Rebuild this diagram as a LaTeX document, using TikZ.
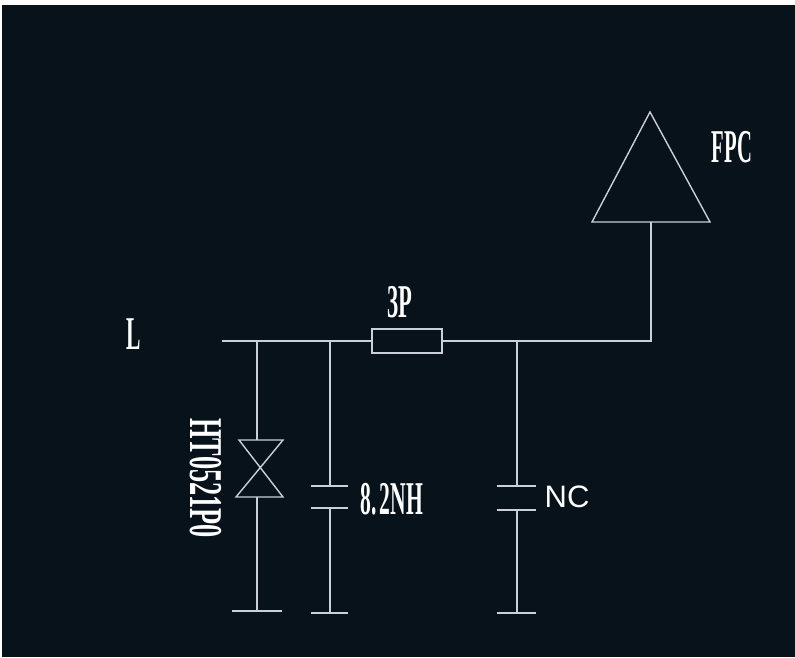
\documentclass[tikz,border=0pt]{standalone}
\usepackage{graphicx}
\usepackage{fontspec}
\setmainfont{Liberation Serif}
\newfontfamily\ncfont{Liberation Sans}
\definecolor{panel}{HTML}{07121A}
\definecolor{wirec}{HTML}{C9D0D6}
\newcommand{\cadtext}[2]{\scalebox{#1}[1]{\bfseries #2}}
\tikzset{
  wire/.style={draw=wirec,line width=1.4pt},
  cadlabel/.style={text=white,font=\fontsize{47}{47}\selectfont},
  reslabel/.style={wire,fill=panel,minimum width=70pt,minimum height=24pt}
}
\begin{document}
\begin{tikzpicture}[x=1pt,y=-1pt]
\tikzstyle{every node}+=[inner sep=0pt]
\useasboundingbox (0,0) rectangle (795,657);
\fill [white] (0,0) rectangle (795,657);
\fill [panel] (2,5) rectangle (795,657);
\coordinate (in) at (222,341);
\coordinate (j1) at (257,341);
\coordinate (j2) at (330,341);
\coordinate (j3) at (517,341);
\coordinate (bend) at (651,341);
\coordinate (apex) at (650,112);
\coordinate (baseL) at (592,222);
\coordinate (baseR) at (710,222);
\coordinate (baseM) at (651,222);
\node [reslabel] (r1) at (407,341) {};
\draw [wire] (in) -- (r1.west);
\draw [wire] (r1.east) -- (bend) -- (baseM);
\draw [wire] (apex) -- (baseL) -- (baseR) -- cycle;
\coordinate (d1top) at (257,440);
\coordinate (d1bot) at (257,497);
\coordinate (d1tl) at (239,440);
\coordinate (d1tr) at (283,440);
\coordinate (d1bl) at (236,497);
\coordinate (d1br) at (283,497);
\coordinate (g1) at (257,611);
\coordinate (g1l) at (232,611);
\coordinate (g1r) at (282,611);
\draw [wire] (j1) -- (d1top);
\draw [wire] (d1tl) -- (d1tr) -- (d1bl) -- (d1br) -- cycle;
\draw [wire] (d1bot) -- (g1);
\draw [wire] (g1l) -- (g1r);
\coordinate (c1a) at (330,486);
\coordinate (c1al) at (311,486);
\coordinate (c1ar) at (348,486);
\coordinate (c1b) at (330,508);
\coordinate (c1bl) at (311,508);
\coordinate (c1br) at (348,508);
\coordinate (g2) at (330,613);
\coordinate (g2l) at (311,613);
\coordinate (g2r) at (348,613);
\draw [wire] (j2) -- (c1a);
\draw [wire] (c1al) -- (c1ar);
\draw [wire] (c1bl) -- (c1br);
\draw [wire] (c1b) -- (g2);
\draw [wire] (g2l) -- (g2r);
\coordinate (c2a) at (517,486);
\coordinate (c2al) at (497,486);
\coordinate (c2ar) at (536,486);
\coordinate (c2b) at (517,510);
\coordinate (c2bl) at (497,510);
\coordinate (c2br) at (536,510);
\coordinate (g3) at (517,613);
\coordinate (g3l) at (497,613);
\coordinate (g3r) at (536,613);
\draw [wire] (j3) -- (c2a);
\draw [wire] (c2al) -- (c2ar);
\draw [wire] (c2bl) -- (c2br);
\draw [wire] (c2b) -- (g3);
\draw [wire] (g3l) -- (g3r);
\node [cadlabel] (inlabel) at (134,334) {\cadtext{0.46}{L}};
\node [cadlabel] (rlabel) at (400,302) {\cadtext{0.48}{3P}};
\node [cadlabel] (fpclabel) at (732,147) {\cadtext{0.44}{FPC}};
\node [cadlabel] (c1label) at (392,499) {\cadtext{0.46}{8.\kern6pt 2NH}};
\node [cadlabel,rotate=-90] (d1label) at (206,478) {\cadtext{0.56}{HT0521P0}};
\node [text=white,font=\ncfont\fontsize{31}{31}\selectfont] (c2label) at (567,497) {NC};
\end{tikzpicture}
\end{document}
